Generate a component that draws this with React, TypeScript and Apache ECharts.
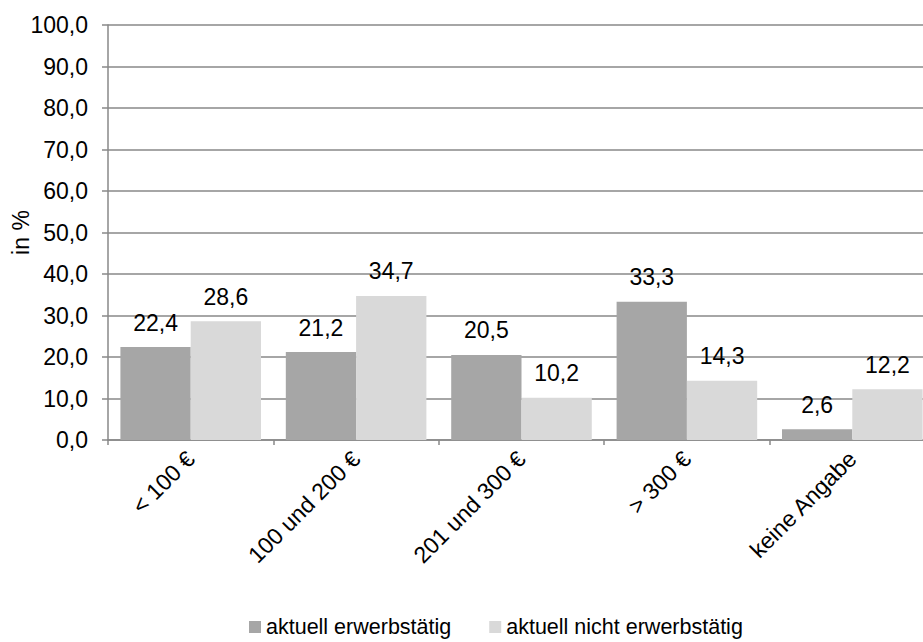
import React, { useEffect, useRef } from "react";
import * as echarts from "echarts";

const categories = ["< 100 €", "100 und 200 €", "201 und 300 €", "> 300 €", "keine Angabe"];
const seriesNames = ["aktuell erwerbstätig", "aktuell nicht erwerbstätig"];
const erwerbstaetig = [22.4, 21.2, 20.5, 33.3, 2.6];
const nichtErwerbstaetig = [28.6, 34.7, 10.2, 14.3, 12.2];

const FONT = "'Liberation Sans', Arial, sans-serif";
const fmt = (v: number) => v.toFixed(1).replace(".", ",");

export default function App() {
  const ref = useRef<HTMLDivElement>(null);
  useEffect(() => {
    document.body.style.margin = "0";
    if (!ref.current) return;
    const chart = echarts.init(ref.current, null, { renderer: "svg" });
    const labelStyle = {
      show: true,
      position: "top" as const,
      distance: 13,
      fontSize: 23,
      fontFamily: FONT,
      color: "#000",
      formatter: (p: any) => fmt(p.value),
    };
    chart.setOption({
      animation: false,
      backgroundColor: "#fff",
      textStyle: { fontFamily: FONT },
      grid: {
        left: 108,
        top: 25,
        width: 827,
        height: 415,
        containLabel: false,
        outerBoundsMode: "none",
      },
      legend: {
        left: 244,
        top: 611,
        itemWidth: 12,
        itemHeight: 12,
        itemGap: 38,
        icon: "rect",
        textStyle: { fontSize: 21.5, fontFamily: FONT, color: "#000" },
        data: seriesNames,
      },
      xAxis: {
        type: "category",
        data: categories,
        axisLine: { lineStyle: { color: "#888", width: 1.5 } },
        axisTick: { show: true, length: 5, lineStyle: { color: "#888", width: 1.5 } },
        axisLabel: { rotate: 45, margin: 15, fontSize: 23, fontFamily: FONT, color: "#000", interval: 0 },
      },
      yAxis: {
        type: "value",
        min: 0,
        max: 100,
        interval: 10,
        name: "in %",
        nameLocation: "middle",
        nameGap: 76,
        nameMoveOverlap: false,
        nameRotate: 90,
        nameTextStyle: { fontSize: 23, fontFamily: FONT, color: "#000" },
        axisLine: { show: true, lineStyle: { color: "#888", width: 1.5 } },
        axisTick: { show: true, length: 6, lineStyle: { color: "#888", width: 1.5 } },
        axisLabel: { margin: 20, fontSize: 23, fontFamily: FONT, color: "#000", formatter: (v: number) => fmt(v) },
        splitLine: { show: true, lineStyle: { color: "#888", width: 1.5 } },
      },
      series: [
        {
          name: seriesNames[0],
          type: "bar",
          data: erwerbstaetig,
          barGap: "0%",
          barCategoryGap: "15%",
          itemStyle: { color: "#a6a6a6" },
          label: labelStyle,
        },
        {
          name: seriesNames[1],
          type: "bar",
          data: nichtErwerbstaetig,
          barGap: "0%",
          barCategoryGap: "15%",
          itemStyle: { color: "#d9d9d9" },
          label: labelStyle,
        },
      ],
    });
    return () => chart.dispose();
  }, []);
  return <div ref={ref} style={{ width: 923, height: 642 }} />;
}
